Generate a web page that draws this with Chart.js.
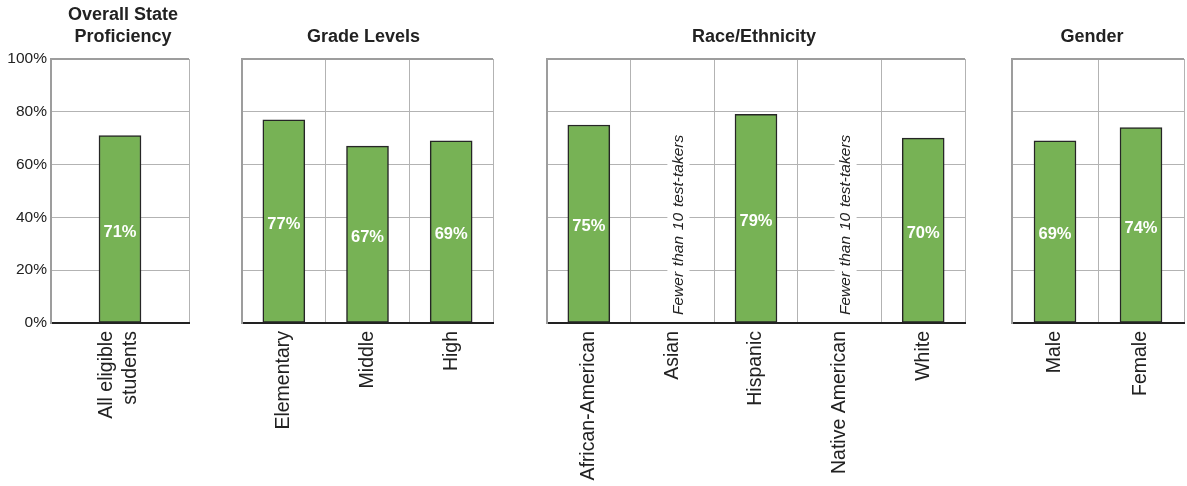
<!DOCTYPE html>
<html><head><meta charset="utf-8">
<script src="https://cdn.jsdelivr.net/npm/chart.js@4.4.1/dist/chart.umd.min.js"></script>
<style>
html,body{margin:0;padding:0;background:#fff;}
#wrap{position:relative;width:1187px;height:486px;overflow:hidden;background:#fff;}
.p{position:absolute;top:0;height:486px;}
canvas{display:block;}
</style></head><body>
<div id="wrap">
<div class="p" style="left:0px"><canvas id="c1" width="192" height="486"></canvas></div>
<div class="p" style="left:240px"><canvas id="c2" width="256" height="486"></canvas></div>
<div class="p" style="left:545px"><canvas id="c3" width="423" height="486"></canvas></div>
<div class="p" style="left:1010px"><canvas id="c4" width="177" height="486"></canvas></div>
</div>
<script>
// ---- data ----
const overallLabels = [["All eligible", "students"]];
const overallValues = [71];
const gradeLabels = ["Elementary", "Middle", "High"];
const gradeValues = [77, 67, 69];
const raceLabels = ["African-American", "Asian", "Hispanic", "Native American", "White"];
const raceValues = [75, null, 79, null, 70];
const genderLabels = ["Male", "Female"];
const genderValues = [69, 74];
const panelTitles = [["Overall State", "Proficiency"], ["Grade Levels"], ["Race/Ethnicity"], ["Gender"]];
const yTickValues = [0, 20, 40, 60, 80, 100];
const suppressedNote = "Fewer than 10 test-takers";

// ---- styling ----
const FONT = '"Liberation Sans", Arial, sans-serif';
const BAR_FILL = '#77b255';
const BAR_EDGE = '#262626';
const GRID = '#b3b3b3';
const FRAME = '#9d9d9d';
const TEXT = '#222222';

const valueLabels = {
  id: 'valueLabels',
  afterDatasetsDraw(chart) {
    const ctx = chart.ctx;
    const meta = chart.getDatasetMeta(0);
    const data = chart.data.datasets[0].data;
    meta.data.forEach((bar, i) => {
      const v = data[i];
      if (v == null) {
        const y = chart.chartArea.bottom - 8;
        ctx.save();
        ctx.translate(bar.x + 6, y);
        ctx.rotate(-Math.PI / 2);
        ctx.font = 'italic 15.5px ' + FONT;
        try { ctx.wordSpacing = '1.5px'; } catch (e) {}
        const w = ctx.measureText(suppressedNote).width;
        ctx.fillStyle = '#fff';
        ctx.fillRect(-4, -11, w + 8, 22);
        ctx.fillStyle = TEXT;
        ctx.textAlign = 'left';
        ctx.textBaseline = 'middle';
        ctx.fillText(suppressedNote, 0, 0);
        ctx.restore();
      } else {
        ctx.save();
        ctx.font = 'bold 16.5px ' + FONT;
        ctx.fillStyle = '#ffffff';
        ctx.textAlign = 'center';
        ctx.textBaseline = 'middle';
        ctx.fillText(v + '%', bar.x, (bar.y + bar.base) / 2 + 3);
        ctx.restore();
      }
    });
  }
};

const panelTitle = {
  id: 'panelTitle',
  afterDraw(chart, args, opts) {
    const ctx = chart.ctx;
    const lines = opts.lines || [];
    const ca = chart.chartArea;
    ctx.save();
    ctx.font = 'bold 18px ' + FONT;
    ctx.fillStyle = TEXT;
    ctx.textAlign = 'center';
    ctx.textBaseline = 'alphabetic';
    const cx = (ca.left + ca.right) / 2 + (opts.dx || 0);
    const lastBase = ca.top - 17.5;
    lines.forEach((ln, i) => {
      ctx.fillText(ln, cx, lastBase - (lines.length - 1 - i) * 21.5);
    });
    ctx.restore();
  }
};

function makeChart(id, labels, values, title, showY, yWidth, padRight, dx, lblOff) {
  return new Chart(document.getElementById(id), {
    type: 'bar',
    data: {
      labels: labels,
      datasets: [{
        data: values,
        backgroundColor: BAR_FILL,
        borderColor: BAR_EDGE,
        borderWidth: 1.5,
        borderSkipped: false,
        barThickness: 42
      }]
    },
    plugins: [valueLabels, panelTitle],
    options: {
      responsive: false,
      animation: false,
      devicePixelRatio: 1,
      layout: { padding: { top: 59, right: padRight, left: 0, bottom: 0 } },
      plugins: {
        legend: { display: false },
        tooltip: { enabled: false },
        panelTitle: { lines: title, dx: dx }
      },
      scales: {
        x: {
          offset: true,
          grid: {
            offset: true,
            color: (c) => (c.index === 0 || c.index === labels.length) ? FRAME : GRID,
            lineWidth: (c) => (c.index === 0 || c.index === labels.length) ? 2 : 1,
            drawTicks: false
          },
          border: { color: TEXT, width: 2 },
          ticks: {
            minRotation: 90, maxRotation: 90, autoSkip: false,
            padding: 8, color: TEXT, labelOffset: lblOff || 0,
            font: { family: FONT, size: 19.5 }
          },
          afterFit: (s) => { s.height = 163; }
        },
        y: {
          min: 0, max: 100,
          afterBuildTicks: (s) => { s.ticks = yTickValues.map(v => ({ value: v })); },
          grid: {
            color: (c) => (c.tick && c.tick.value === 100) ? FRAME : GRID,
            lineWidth: (c) => (c.tick && c.tick.value === 100) ? 2 : 1,
            drawTicks: false
          },
          border: { color: FRAME, width: 2 },
          ticks: {
            display: showY,
            padding: 4,
            color: TEXT,
            font: { family: FONT, size: 15.5 },
            callback: (v) => v + '%'
          },
          afterFit: (s) => { s.width = yWidth; }
        }
      }
    }
  });
}

makeChart('c1', overallLabels, overallValues, panelTitles[0], true, 51, 3, 3, -13);
makeChart('c2', gradeLabels, gradeValues, panelTitles[1], false, 2, 3, -4, 0);
makeChart('c3', raceLabels, raceValues, panelTitles[2], false, 2, 3, -2, 0);
makeChart('c4', genderLabels, genderValues, panelTitles[3], false, 2, 3, -6, 0);
</script>
</body></html>
